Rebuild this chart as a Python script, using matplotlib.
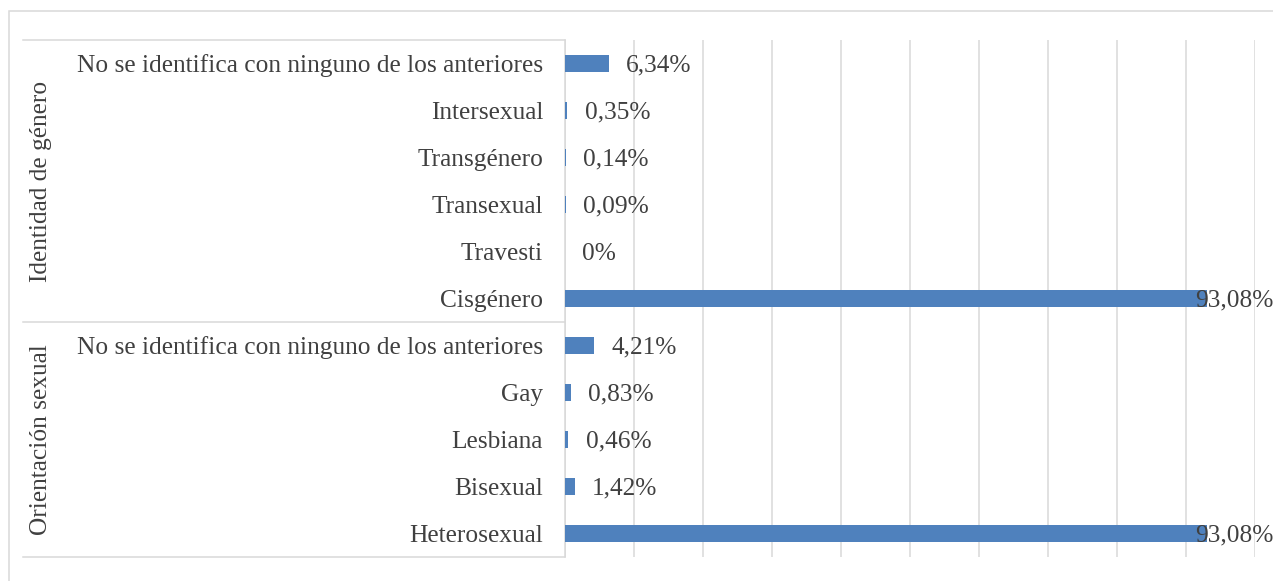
import matplotlib
matplotlib.use("Agg")
import matplotlib.pyplot as plt
import matplotlib.transforms as mtransforms
from matplotlib.patches import Rectangle
from matplotlib.lines import Line2D

# ---- data ----
groups = ["Identidad de género", "Orientación sexual"]
gender_categories = ["No se identifica con ninguno de los anteriores", "Intersexual",
                     "Transgénero", "Transexual", "Travesti", "Cisgénero"]
gender_values = [6.34, 0.35, 0.14, 0.09, 0.0, 93.08]
orient_categories = ["No se identifica con ninguno de los anteriores", "Gay",
                     "Lesbiana", "Bisexual", "Heterosexual"]
orient_values = [4.21, 0.83, 0.46, 1.42, 93.08]

categories = gender_categories + orient_categories
values = gender_values + orient_values

FONT = ["Liberation Serif", "DejaVu Serif"]
TXT = "#404040"
GRID = "#D9D9D9"
BAR = "#4F81BD"
W, H = 1273, 581
FS = 18.3

plt.rcParams["font.family"] = FONT

fig = plt.figure(figsize=(W / 100, H / 100), dpi=100)
left, right, top, bottom = 565, 1255, 40, 557
ax = fig.add_axes([left / W, 1 - bottom / H, (right - left) / W, (bottom - top) / H])

ypos = list(range(len(categories)))
ax.barh(ypos, values, height=0.35, color=BAR, zorder=3)
ax.set_xlim(0, 100)
ax.set_ylim(len(categories) - 0.5, -0.5)
ax.set_xticks(range(0, 101, 10))
ax.set_xticklabels([])
ax.tick_params(axis="both", length=0)
ax.set_yticks([])
ax.grid(axis="x", color=GRID, linewidth=1.1, zorder=0)
for s in ["top", "right", "bottom"]:
    ax.spines[s].set_visible(False)
ax.spines["left"].set_color(GRID)
ax.spines["left"].set_linewidth(1.1)

# small downward shift of text (in points) to match reference
dy = -1.5

# value labels
for y, v in zip(ypos, values):
    lab = "0%" if v == 0 else f"{v:.2f}".replace(".", ",") + "%"
    if v > 90:
        tr = mtransforms.blended_transform_factory(fig.transFigure, ax.transData)
        ax.annotate(lab, (1.0, y), xycoords=tr, xytext=(0, dy),
                    textcoords="offset points", ha="right", va="center",
                    fontsize=FS, color=TXT, zorder=4, annotation_clip=False)
    else:
        ax.annotate(lab, (v, y), xytext=(12.5, dy), textcoords="offset points",
                    ha="left", va="center", fontsize=FS, color=TXT, zorder=4)

# category labels
lab_tr = mtransforms.blended_transform_factory(fig.transFigure, ax.transData)
for y, c in zip(ypos, categories):
    ax.annotate(c, (543 / W, y), xycoords=lab_tr, xytext=(0, dy),
                textcoords="offset points", ha="right", va="center",
                fontsize=FS, color=TXT, annotation_clip=False)

# multi-level axis lines
x0 = 23 / W
x1 = left / W
n1 = len(gender_categories)
for yb in [-0.5, n1 - 0.5, len(categories) - 0.5]:
    ax.add_line(Line2D([x0, x1], [yb, yb], transform=lab_tr, color=GRID,
                       linewidth=1.1, clip_on=False))

# group labels
gcenters = [(n1 - 1) / 2, n1 + (len(orient_categories) - 1) / 2]
for g, yc in zip(groups, gcenters):
    ax.text(41 / W, yc, g, transform=lab_tr, rotation=90, ha="center",
            va="center", fontsize=FS, color=TXT)

# outer chart border
fig.patches.append(Rectangle((9 / W, -0.1), 1.2, 1 - 11 / H + 0.1,
                             transform=fig.transFigure, fill=False,
                             edgecolor=GRID, linewidth=1.1))

fig.savefig("out.png", dpi=100)
